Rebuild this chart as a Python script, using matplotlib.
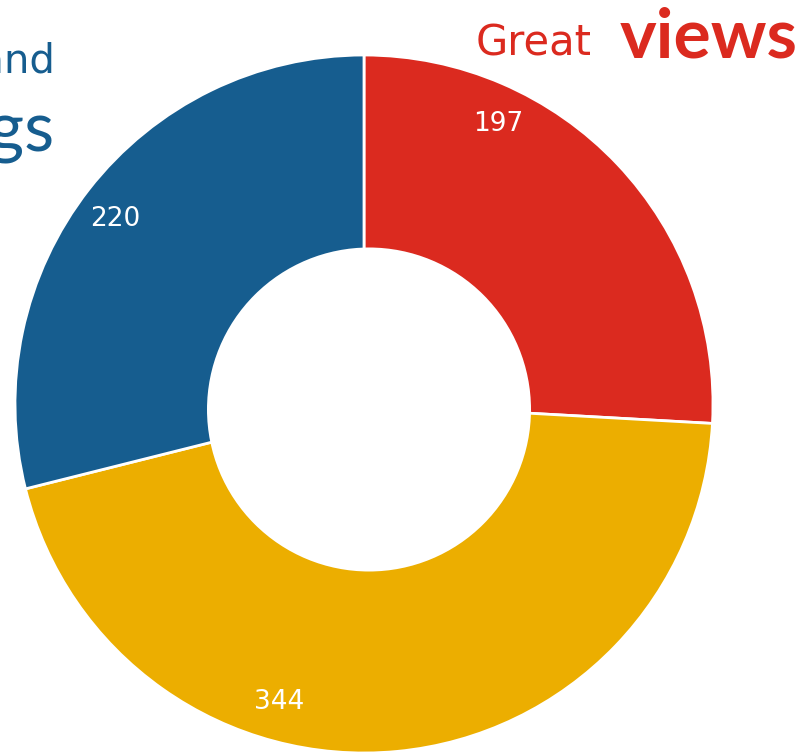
import numpy as np
import matplotlib
matplotlib.use('Agg')
import matplotlib.pyplot as plt
from matplotlib.patches import Circle

# --- data -----------------------------------------------------------------
values = [197, 344, 220]
colors = ['#DB2A1F', '#ECAE00', '#165D8F']
label_angles = [25.6, 195.9, 306.6]   # degrees clockwise from 12 o'clock

W, H = 805, 753
plt.rcParams['font.family'] = ['DejaVu Sans']

fig = plt.figure(figsize=(W / 100, H / 100), dpi=100)
ax = fig.add_axes([0, 0, 1, 1])

cx, cy, r_out = 364, H - 404, 349
ax.pie(values, colors=colors, startangle=90, counterclock=False,
       center=(cx, cy), radius=r_out, frame=True,
       wedgeprops=dict(edgecolor='white', linewidth=2))
ax.set_xlim(0, W)
ax.set_ylim(0, H)
ax.set_aspect('equal')
ax.axis('off')

# hole (sits slightly off centre in the reference)
ax.add_patch(Circle((369, H - 409.5), 162, facecolor='white', edgecolor='none', zorder=5))

# value labels
for v, a in zip(values, label_angles):
    t = np.deg2rad(a)
    x = cx + 310 * np.sin(t)
    y = cy + 310 * np.cos(t)
    ax.text(x, y, str(v), color='white', fontsize=19, ha='center', va='center', zorder=6)

# captions
ax.text(476, H - 55, 'Great', color='#DB2A1F', fontsize=30, ha='left', va='baseline')
ax.text(620, H - 57, 'views', color='#DB2A1F', fontsize=50, fontweight='bold',
        family='Lato', ha='left', va='baseline')
ax.text(55, H - 72, 'Food and', color='#165D8F', fontsize=29, ha='right', va='baseline')
ax.text(55, H - 150, 'lodgings', color='#165D8F', fontsize=50, family='Lato',
        ha='right', va='baseline')

fig.savefig('out.png', dpi=100)
